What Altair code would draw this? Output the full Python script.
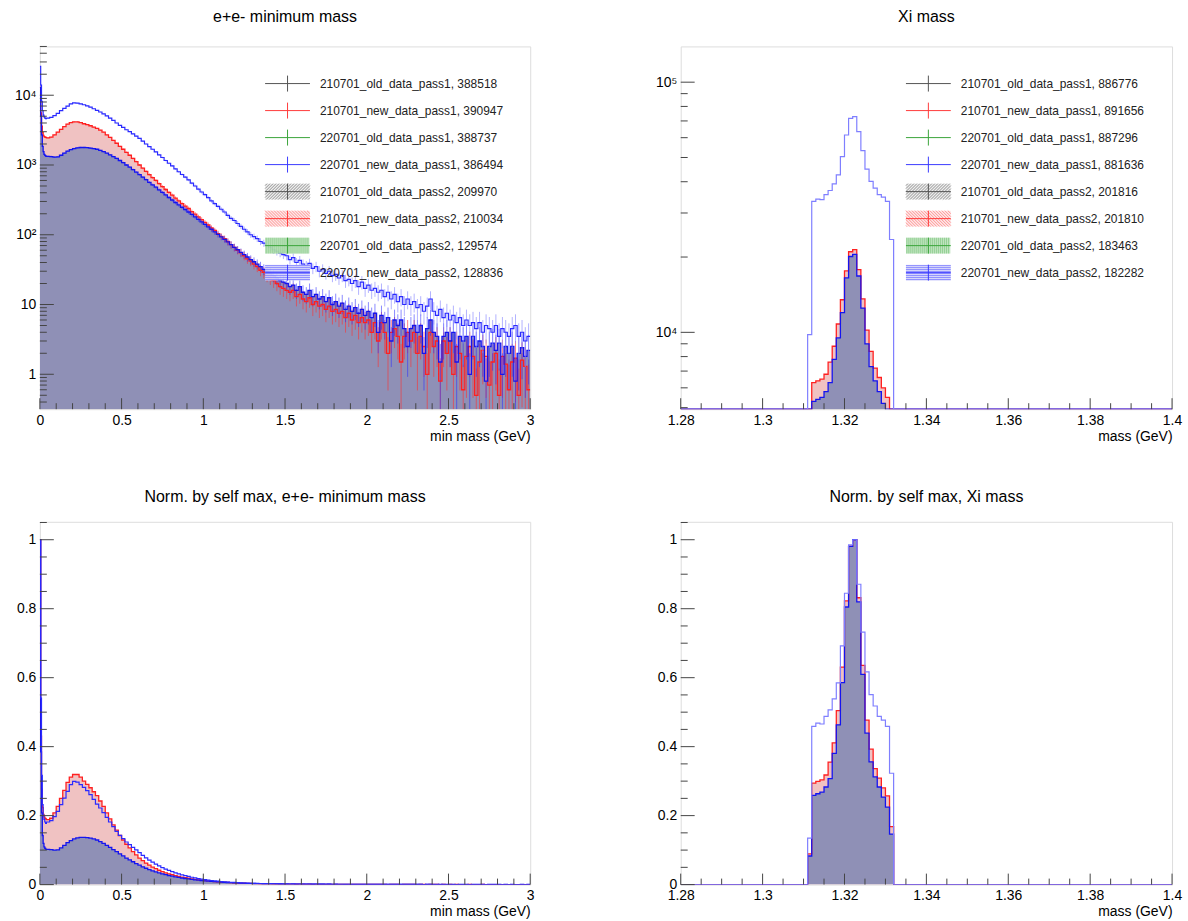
import altair as alt
import pandas as pd

# ---------------- e+e- minimum mass (levels per 0.005 GeV bin) ----------------
ee_edges = [0.0, 0.005, 0.01, 0.015, 0.02, 0.025, 0.03, 0.035, 0.04] + [round(0.04 + 0.02 * k, 2) for k in range(1, 149)]

ee_pass1 = [25900, 14000, 8200, 6000, 5200, 4900, 4700, 4600,
            4700, 4800, 5100, 5500, 6000, 6500, 7000, 7500, 7750, 7700, 7500, 7300, 7050, 6750, 6400, 6050, 5750, 5400, 5050, 4700, 4350, 4000, 3700,
            3450, 3200, 3000, 2800, 2600, 2400, 2200, 2000, 1830, 1680, 1540, 1400, 1280, 1160, 1060, 970, 880, 800, 730, 670, 610, 550, 500, 450, 410,
            375, 340, 305, 280, 255, 232, 212, 190, 172, 160, 145, 132, 120, 110, 100, 94, 88, 80, 76, 70, 66, 61, 58, 55, 52,
            50, 44, 47, 40, 43, 38, 36, 39, 33, 35, 30, 32, 28, 30, 26, 27, 24, 26, 22, 23, 20, 22, 18, 21, 17,
            19, 16, 17, 15, 16, 13, 15, 12, 14, 11, 13, 10, 12, 10, 11, 9, 10, 8, 9.5, 12, 8, 7, 8.5, 6.5, 7.5,
            6, 7, 5.5, 6.5, 5, 6, 5, 5.5, 4.5, 5.5, 4, 5, 4.5, 4, 5, 3.5, 4.5, 4, 3.5, 4.5, 5, 3.5, 4, 3, 3.5]

ee_210701_pass2 = [13000, 5600, 3600, 2900, 2650, 2550, 2500, 2480,
                   2450, 2500, 2700, 2950, 3250, 3550, 3850, 4050, 4150, 4150, 4050, 3900, 3780, 3650, 3500, 3350, 3150, 2950, 2700, 2480, 2250, 2050, 1850,
                   1680, 1520, 1380, 1240, 1120, 1000, 900, 810, 730, 660, 600, 540, 490, 445, 405, 370, 335, 305, 280, 258, 238, 215, 198, 180, 165,
                   150, 138, 125, 115, 104, 95, 88, 80, 72, 66, 60, 55, 50, 45, 42, 38, 35, 31, 29, 26, 24, 22, 20, 18, 17,
                   16, 15, 16, 13, 14, 12, 11, 12.5, 10, 11, 9.5, 10, 8.5, 9.5, 8, 8.5, 7.5, 8, 6.5, 7.5, 6, 7, 5.5, 6.5, 5.5,
                   6, 4, 5.5, 3, 5.5, 4, 2, 4, 4.5, 3.5, 1.5, 3.5, 4, 3, 4, 2, 3.5, 2.5, 1, 4, 2.5, 3, 0.8, 3, 2,
                   3, 1, 2.5, 2, 0.6, 1.8, 2.5, 1.8, 0.5, 1.5, 2.2, 1.8, 0.7, 1.5, 2, 0.5, 1.8, 1.4, 0.6, 1.5, 1.7, 0.5, 1.6, 1.3, 0.6]

ee_220701_pass2 = [13000, 5000, 2700, 1850, 1550, 1420, 1370, 1340,
                   1330, 1320, 1300, 1310, 1380, 1480, 1580, 1660, 1720, 1760, 1780, 1780, 1770, 1750, 1720, 1680, 1620, 1550, 1480, 1400, 1320, 1240, 1160,
                   1080, 1000, 930, 860, 790, 730, 670, 615, 565, 520, 480, 440, 405, 372, 342, 315, 290, 268, 248, 230, 212, 196, 180, 166, 153,
                   141, 130, 120, 110, 101, 93, 86, 79, 72, 66, 61, 56, 52, 48, 44, 41, 38, 35, 32, 30, 28, 26, 24, 22, 21,
                   20, 18, 19, 16, 18, 15, 14, 16, 13, 14, 12, 13, 11, 12.5, 10, 11, 9.5, 10.5, 8.5, 9.5, 8, 9, 7.5, 8.5, 7,
                   8, 6.5, 7.5, 4, 7, 5.5, 6.5, 3, 6, 5, 6, 4.5, 2.5, 4.5, 5, 4, 5, 2, 4.5, 6, 4, 3.5, 1.5, 3.5, 4,
                   3, 4, 1.5, 3.5, 3, 3.5, 1, 3.5, 2.5, 3, 2.5, 0.8, 2.5, 2.8, 2.2, 2.8, 1, 2.5, 2, 2.5, 0.8, 2, 2.4, 1.8, 2.2]

# ---------------- Xi mass (counts per 0.001 GeV bin) ----------------
xi_range = [1.28, 1.4]
xi_edges = [round(1.311 + 0.001 * k, 3) for k in range(22)]
xi_pass1 = [9800, 33400, 34100, 33900, 35500, 36900, 39200, 42600, 50400, 61500, 71700,
            72800, 63400, 53300, 44900, 40100, 37700, 35500, 34700, 33400, 23500]
xi_210701_pass2 = [1900, 6300, 6400, 6500, 6800, 7600, 8800, 10800, 13500, 17600, 21000,
                   21400, 17800, 13600, 10200, 8400, 7200, 6600, 6000, 5500, 3600]
xi_220701_pass2 = [1700, 5300, 5400, 5500, 5800, 6300, 7800, 9500, 12000, 16500, 20100,
                   20500, 16800, 12500, 9000, 7300, 6400, 5800, 5200, 4600, 3000]

ee_legend = ["210701_old_data_pass1, 388518", "210701_new_data_pass1, 390947",
             "220701_old_data_pass1, 388737", "220701_new_data_pass1, 386494",
             "210701_old_data_pass2, 209970", "210701_new_data_pass2, 210034",
             "220701_old_data_pass2, 129574", "220701_new_data_pass2, 128836"]
xi_legend = ["210701_old_data_pass1, 886776", "210701_new_data_pass1, 891656",
             "220701_old_data_pass1, 887296", "220701_new_data_pass1, 881636",
             "210701_old_data_pass2, 201816", "210701_new_data_pass2, 201810",
             "220701_old_data_pass2, 183463", "220701_new_data_pass2, 182282"]

# ---------------- styles ----------------
LEG_LINE = ["#555555", "#ff3b3b", "#3aa53a", "#3b3bff", "#555555", "#ff3b3b", "#3aa53a", "#3b3bff"]
LEG_FILL = ["#ffffff", "#ffffff", "#ffffff", "#ffffff", "#ececec", "#fde6e6", "#e2f2e2", "#e0e0fb"]
HATCH_COL = {4: "#7a7a7a", 5: "#ff7a7a", 6: "#55b555", 7: "#6f6fff"}
PINK = "#f0c2c2"
GRAYBLUE = "#8f90b6"
FONT = "Liberation Sans"
H = 364
LEG_X0, LEG_W, LEG_H = 226, 45, 16


def leg_row_y(i):
    return 37.3 + 27.1 * i


def hatch_segments():
    segs = []
    for i, col in HATCH_COL.items():
        top = leg_row_y(i) - LEG_H / 2
        if i == 4:  # "///"
            for c in range(2, LEG_W + LEG_H, 3):
                xa, xb = max(0, c - LEG_H), min(LEG_W, c)
                segs.append((xa, c - xa, xb, c - xb, top, col))
        elif i == 5:  # "\\\"
            for c in range(-LEG_H + 1, LEG_W, 3):
                xa, xb = max(0, c), min(LEG_W, c + LEG_H)
                segs.append((xa, xa - c, xb, xb - c, top, col))
        elif i == 6:  # vertical
            for x in range(1, LEG_W, 2):
                segs.append((x, 0, x, LEG_H, top, col))
        else:  # horizontal
            for y in range(1, LEG_H, 2):
                segs.append((0, y, LEG_W, y, top, col))
    return pd.DataFrame([{"hx0": LEG_X0 + a, "hy0": t + b, "hx1": LEG_X0 + c, "hy1": t + d, "c": col}
                         for a, b, c, d, t, col in segs])


def ee_steps():
    rows, errs = [], []
    for s, vals in (("P1", ee_pass1), ("R2", ee_210701_pass2), ("B2", ee_220701_pass2)):
        assert len(vals) == len(ee_edges) - 1, (s, len(vals))
        for k, v in enumerate(vals):
            rows.append({"s": s, "x": ee_edges[k], "v": v})
            errs.append({"s": s, "xc": (ee_edges[k] + ee_edges[k + 1]) / 2, "v": v})
        rows.append({"s": s, "x": ee_edges[-1], "v": vals[-1]})
    return pd.DataFrame(rows), pd.DataFrame(errs)


def xi_steps():
    rows = []
    for s, vals in (("P1", xi_pass1), ("R2", xi_210701_pass2), ("B2", xi_220701_pass2)):
        assert len(vals) == len(xi_edges) - 1
        rows.append({"s": s, "x": xi_range[0], "v": 0})
        for k, v in enumerate(vals):
            rows.append({"s": s, "x": xi_edges[k], "v": v})
        rows.append({"s": s, "x": xi_edges[-1], "v": 0})
        rows.append({"s": s, "x": xi_range[1], "v": 0})
    return pd.DataFrame(rows)


def build_panel(steps, errs, xdom, ydom, log, xmaj, xmin_, ymaj, ymin_, ylabels, title, xtitle,
                labels, norm, width, p1_color, title_offset):
    xscale = alt.Scale(domain=xdom, nice=False, zero=False)
    if log:
        yscale = alt.Scale(type="log", domain=ydom, nice=False, clamp=True)
    else:
        yscale = alt.Scale(domain=ydom, nice=False, zero=False, clamp=True)
    xaxis = alt.Axis(values=xmaj, format="~g", title=xtitle, ticks=False, tickSize=0, domain=False, grid=False,
                     labelFontSize=14, titleFontSize=14, titleFontWeight="normal", titleAnchor="end",
                     titleAlign="right", labelPadding=4, titlePadding=2, labelFlush=False, labelOverlap=False,
                     labelColor="#000", titleColor="#000")
    yaxis = alt.Axis(values=ymaj, title=None, ticks=False, tickSize=0, domain=False, grid=False,
                     labelFontSize=14, labelPadding=4, labelFlush=False, labelOverlap=False, labelColor="#000",
                     **({"labelExpr": ylabels} if ylabels else {"format": "~g"}))

    def X(f):
        return alt.X(f"{f}:Q", scale=xscale, axis=xaxis)

    def Y(f):
        return alt.Y(f"{f}:Q", scale=yscale, axis=yaxis, stack=None)

    base = alt.Chart(steps)
    if norm:
        base = base.transform_joinaggregate(m="max(v)", groupby=["s"]).transform_calculate(vv="datum.v / datum.m")
    else:
        base = base.transform_calculate(vv=f"max(datum.v, {ydom[0] * 0.2})")

    floor = ydom[0]
    layers = []
    for s, col in (("R2", PINK), ("B2", GRAYBLUE)):
        layers.append(base.transform_filter(alt.datum.s == s)
                      .mark_area(interpolate="step-after", color=col, opacity=1, clip=True)
                      .encode(x=X("x"), y=Y("vv"), y2=alt.datum(floor)))
    if errs is not None:
        eb = alt.Chart(errs).transform_calculate(
            lo=f"max(datum.v - sqrt(datum.v), {floor * 0.2})", hi="datum.v + sqrt(datum.v)")
        for s, col, op in (("R2", "#ff3030", 0.6), ("B2", "#2a2aff", 0.55)):
            layers.append(eb.transform_filter(alt.datum.s == s)
                          .mark_rule(color=col, opacity=op, strokeWidth=1, clip=True)
                          .encode(x=X("xc"), y=Y("lo"), y2="hi:Q"))
    for s, col in (("R2", "#ff2020"), ("B2", "#1414f0")):
        layers.append(base.transform_filter(alt.datum.s == s)
                      .mark_line(interpolate="step-after", color=col, strokeWidth=1.3, clip=True)
                      .encode(x=X("x"), y=Y("vv")))
    if errs is not None:
        layers.append(eb.transform_filter(alt.datum.s == "P1")
                      .mark_rule(color="#8a8aff", opacity=0.65, strokeWidth=1, clip=True)
                      .encode(x=X("xc"), y=Y("lo"), y2="hi:Q"))
    layers.append(base.transform_filter(alt.datum.s == "P1")
                  .mark_line(interpolate="step-after", color=p1_color, strokeWidth=1.2, clip=True)
                  .encode(x=X("x"), y=Y("vv")))

    # inward ticks (ROOT style)
    for vals, ln in ((xmaj, 11), (xmin_, 6)):
        layers.append(alt.Chart(pd.DataFrame({"t": vals})).mark_rule(color="#444", strokeWidth=1)
                      .encode(x=X("t"), y=alt.value(H), y2=alt.value(H - ln)))
    for vals, ln in ((ymaj, 14), (ymin_, 7)):
        layers.append(alt.Chart(pd.DataFrame({"t": vals})).mark_rule(color="#444", strokeWidth=1)
                      .encode(y=Y("t"), x=alt.value(0), x2=alt.value(ln)))

    # legend
    if labels is not None:
        ldf = pd.DataFrame({"label": labels, "i": list(range(len(labels))), "lc": LEG_LINE, "fc": LEG_FILL,
                            "h": [0, 0, 0, 0, 1, 1, 1, 1]})
        lb = alt.Chart(ldf).transform_calculate(ly="37.3 + 27.1 * datum.i", ly0="datum.ly - 8", ly1="datum.ly + 8")
        layers.append(lb.transform_filter(alt.datum.h == 1).mark_rect(opacity=0.92)
                      .encode(x=alt.value(LEG_X0), x2=alt.value(LEG_X0 + LEG_W),
                              y=alt.Y("ly0:Q", scale=None, axis=None), y2="ly1:Q",
                              fill=alt.Color("fc:N", scale=None)))
        layers.append(alt.Chart(hatch_segments()).mark_rule(strokeWidth=0.8)
                      .encode(x=alt.X("hx0:Q", scale=None, axis=None), x2="hx1:Q",
                              y=alt.Y("hy0:Q", scale=None, axis=None), y2="hy1:Q",
                              color=alt.Color("c:N", scale=None)))
        layers.append(lb.mark_rule(strokeWidth=1)
                      .encode(x=alt.value(LEG_X0), x2=alt.value(LEG_X0 + LEG_W),
                              y=alt.Y("ly:Q", scale=None, axis=None),
                              color=alt.Color("lc:N", scale=None)))
        layers.append(lb.mark_rule(strokeWidth=1)
                      .encode(x=alt.value(LEG_X0 + LEG_W / 2),
                              y=alt.Y("ly0:Q", scale=None, axis=None), y2="ly1:Q",
                              color=alt.Color("lc:N", scale=None)))
        layers.append(lb.mark_text(align="left", baseline="middle", fontSize=12, color="#222", font=FONT)
                      .encode(x=alt.value(281), y=alt.Y("ly:Q", scale=None, axis=None), text="label:N"))

    return alt.layer(*layers).properties(
        width=width, height=H,
        title=alt.TitleParams(title, fontSize=16, fontWeight="normal", font=FONT, anchor="middle",
                              offset=title_offset, color="#000"))


ee_df, ee_err = ee_steps()
xi_df = xi_steps()

ee_xmaj = [0, 0.5, 1, 1.5, 2, 2.5, 3]
ee_xmin = [round(0.1 * k, 1) for k in range(31) if k % 5 != 0]
xi_xmaj = [round(1.28 + 0.02 * k, 2) for k in range(7)]
xi_xmin = [round(1.28 + 0.005 * k, 3) for k in range(25) if k % 4 != 0]
ee_ymaj = [1, 10, 100, 1000, 10000]
ee_ymin = [k * 10 ** d for d in range(-1, 5) for k in range(2, 10) if 0.316 <= k * 10 ** d <= 50100]
xi_ymaj = [10000, 100000]
xi_ymin = [k * 10 ** d for d in range(3, 6) for k in range(2, 10) if 4930 <= k * 10 ** d <= 139000]
n_ymaj = [0, 0.2, 0.4, 0.6, 0.8, 1]
n_ymin = [round(0.05 * k, 2) for k in range(22) if k % 4 != 0]

ee_lab = ("datum.value < 5 ? '1' : datum.value < 50 ? '10' : datum.value < 500 ? '10²' : "
          "datum.value < 5000 ? '10³' : '10⁴'")
xi_lab = "datum.value < 50000 ? '10⁴' : '10⁵'"

p1 = build_panel(ee_df, ee_err, [0, 3], [0.316, 50100], True, ee_xmaj, ee_xmin, ee_ymaj, ee_ymin, ee_lab,
                 "e+e- minimum mass", "min mass (GeV)", ee_legend, False, 492, "#2a2aff", 21)
p2 = build_panel(xi_df, None, xi_range, [4930, 139000], True, xi_xmaj, xi_xmin, xi_ymaj, xi_ymin, xi_lab,
                 "Xi mass", "mass (GeV)", xi_legend, False, 493, "#7f7fff", 21)
p3 = build_panel(ee_df, None, [0, 3], [0, 1.052], False, ee_xmaj, ee_xmin, n_ymaj, n_ymin, None,
                 "Norm. by self max, e+e- minimum mass", "min mass (GeV)", None, True, 492, "#2a2aff", 17)
p4 = build_panel(xi_df, None, xi_range, [0, 1.052], False, xi_xmaj, xi_xmin, n_ymaj, n_ymin, None,
                 "Norm. by self max, Xi mass", "mass (GeV)", None, True, 493, "#7f7fff", 17)

chart = (alt.concat(p1, p2, p3, p4, columns=2, spacing={"row": 113, "column": 151}, bounds="flush")
         .properties(padding={"left": 13, "top": 7, "right": 5, "bottom": 5}, background="white")
         .configure_view(stroke="#555555", strokeWidth=1)
         .configure(font=FONT))

chart.save("out.html", embed_options={"renderer": "svg", "actions": False})
